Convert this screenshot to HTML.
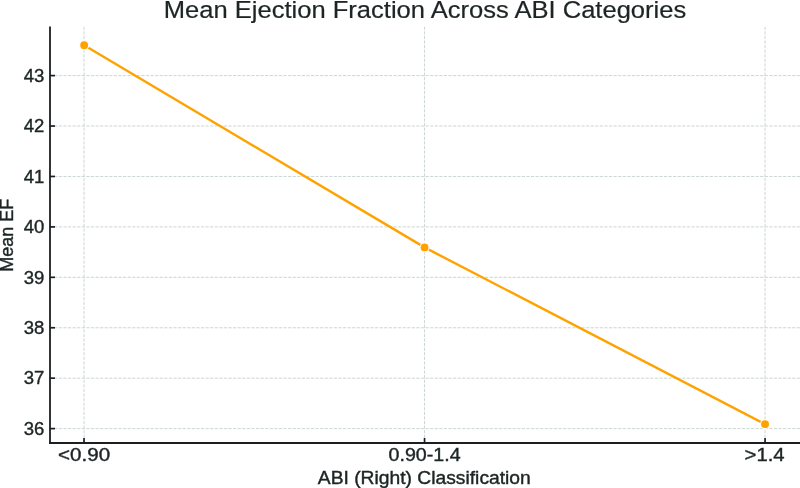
<!DOCTYPE html>
<html>
<head>
<meta charset="utf-8">
<style>
html,body{margin:0;padding:0;background:#ffffff;}
body{width:800px;height:488px;overflow:hidden;}
svg{display:block;will-change:transform;}
text{font-family:"Liberation Sans",sans-serif;fill:#1c2424;stroke:#1c2424;stroke-width:0.4px;}
</style>
</head>
<body>
<svg width="800" height="488" viewBox="0 0 800 488">
<rect x="0" y="0" width="800" height="488" fill="#ffffff"/>
<g stroke="#c4d0cc" stroke-width="0.87" stroke-dasharray="3.2,1.384" fill="none">
<line x1="50" y1="428.61" x2="800" y2="428.61" stroke-dashoffset="0.35"/>
<line x1="50" y1="378.18" x2="800" y2="378.18" stroke-dashoffset="0.35"/>
<line x1="50" y1="327.75" x2="800" y2="327.75" stroke-dashoffset="0.35"/>
<line x1="50" y1="277.32" x2="800" y2="277.32" stroke-dashoffset="0.35"/>
<line x1="50" y1="226.89" x2="800" y2="226.89" stroke-dashoffset="0.35"/>
<line x1="50" y1="176.46" x2="800" y2="176.46" stroke-dashoffset="0.35"/>
<line x1="50" y1="126.03" x2="800" y2="126.03" stroke-dashoffset="0.35"/>
<line x1="50" y1="75.60" x2="800" y2="75.60" stroke-dashoffset="0.35"/>
<line x1="84.05" y1="442.48" x2="84.05" y2="26.43"/>
<line x1="424.55" y1="442.48" x2="424.55" y2="26.43"/>
<line x1="765.05" y1="442.48" x2="765.05" y2="26.43"/>
</g>
<polyline points="84.15,45.30 424.55,247.40 765.05,424.15" fill="none" stroke="#ffa200" stroke-width="2.4" stroke-linejoin="round"/>
<g fill="#ffa200" stroke="#ffffff" stroke-width="1.1">
<circle cx="84.15" cy="45.30" r="4.5"/>
<circle cx="424.55" cy="247.40" r="4.5"/>
<circle cx="765.05" cy="424.15" r="4.5"/>
</g>
<g stroke="#1b1f22" stroke-width="1.8" fill="none">
<line x1="50" y1="26.43" x2="50" y2="443.90"/>
<line x1="49.1" y1="443" x2="800" y2="443"/>
</g>
<g stroke="#1b1f22" stroke-width="1.7" fill="none">
<line x1="50" y1="428.61" x2="55" y2="428.61"/>
<line x1="50" y1="378.18" x2="55" y2="378.18"/>
<line x1="50" y1="327.75" x2="55" y2="327.75"/>
<line x1="50" y1="277.32" x2="55" y2="277.32"/>
<line x1="50" y1="226.89" x2="55" y2="226.89"/>
<line x1="50" y1="176.46" x2="55" y2="176.46"/>
<line x1="50" y1="126.03" x2="55" y2="126.03"/>
<line x1="50" y1="75.60" x2="55" y2="75.60"/>
<line x1="84.05" y1="443.00" x2="84.05" y2="438.00"/>
<line x1="424.55" y1="443.00" x2="424.55" y2="438.00"/>
<line x1="765.05" y1="443.00" x2="765.05" y2="438.00"/>
</g>
<text x="425" y="17.6" font-size="24.3" style="stroke-width:0.2px" text-anchor="middle" textLength="522.5" lengthAdjust="spacingAndGlyphs">Mean Ejection Fraction Across ABI Categories</text>
<text x="424.3" y="483.9" font-size="18" text-anchor="middle" textLength="213" lengthAdjust="spacingAndGlyphs">ABI (Right) Classification</text>
<text transform="translate(13,235.2) rotate(-90)" x="0" y="0" font-size="17.5" text-anchor="middle" textLength="73" lengthAdjust="spacingAndGlyphs">Mean EF</text>
<g font-size="18.4" text-anchor="middle">
<text x="84.1" y="461.2" textLength="52" lengthAdjust="spacingAndGlyphs">&lt;0.90</text>
<text x="424.6" y="461.2" textLength="72" lengthAdjust="spacingAndGlyphs">0.90-1.4</text>
<text x="764.6" y="461.2" textLength="40" lengthAdjust="spacingAndGlyphs">&gt;1.4</text>
</g>
<g font-size="18.4" text-anchor="end">
<text x="44.4" y="434.91" textLength="20.6" lengthAdjust="spacingAndGlyphs">36</text>
<text x="44.4" y="384.48" textLength="20.6" lengthAdjust="spacingAndGlyphs">37</text>
<text x="44.4" y="334.05" textLength="20.6" lengthAdjust="spacingAndGlyphs">38</text>
<text x="44.4" y="283.62" textLength="20.6" lengthAdjust="spacingAndGlyphs">39</text>
<text x="44.4" y="233.19" textLength="20.6" lengthAdjust="spacingAndGlyphs">40</text>
<text x="44.4" y="182.76" textLength="20.6" lengthAdjust="spacingAndGlyphs">41</text>
<text x="44.4" y="132.33" textLength="20.6" lengthAdjust="spacingAndGlyphs">42</text>
<text x="44.4" y="81.90" textLength="20.6" lengthAdjust="spacingAndGlyphs">43</text>
</g>
</svg>
</body>
</html>
